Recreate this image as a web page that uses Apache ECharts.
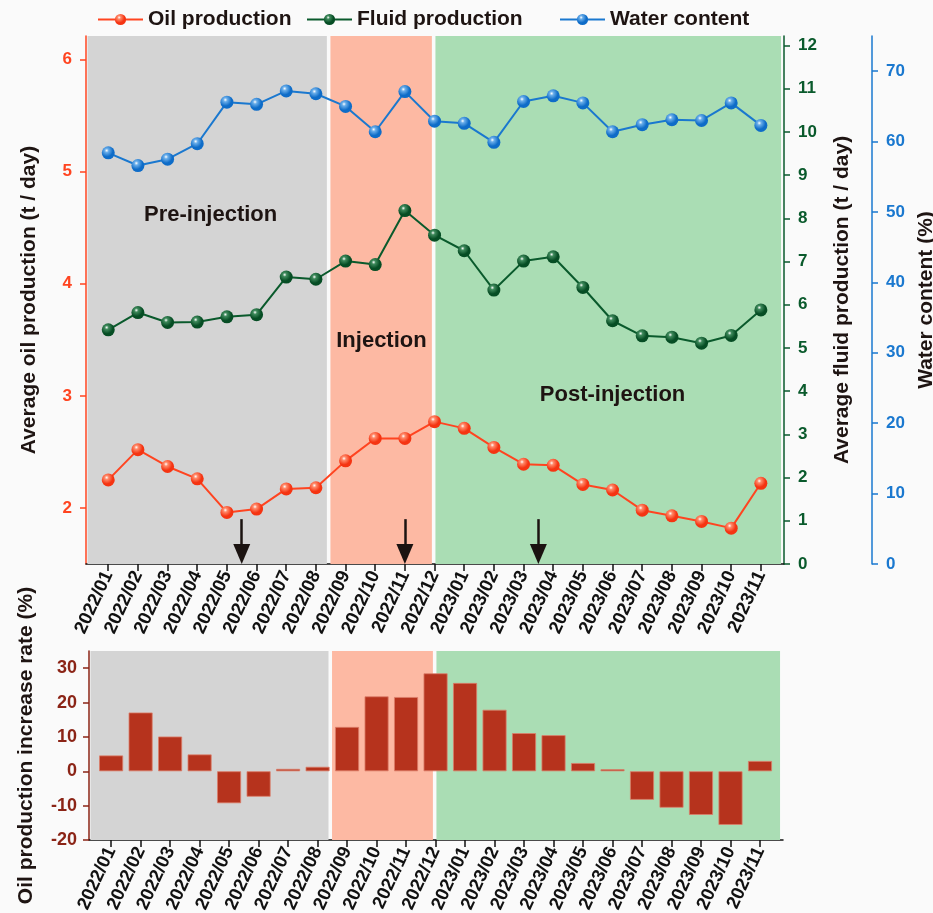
<!DOCTYPE html>
<html>
<head>
<meta charset="utf-8">
<script src="https://cdn.jsdelivr.net/npm/echarts@6/dist/echarts.min.js"></script>
<style>
  html, body { margin: 0; padding: 0; background: #fafafa; }
  #chart { width: 933px; height: 913px; }
</style>
</head>
<body>
<div id="chart"></div>
<script>
// Monthly categories
const months = ['2022/01','2022/02','2022/03','2022/04','2022/05','2022/06','2022/07','2022/08',
  '2022/09','2022/10','2022/11','2022/12','2023/01','2023/02','2023/03','2023/04','2023/05',
  '2023/06','2023/07','2023/08','2023/09','2023/10','2023/11'];

// Average oil production (t / day)
const oilProduction = [2.25,2.52,2.37,2.26,1.96,1.99,2.17,2.18,2.42,2.62,2.62,2.77,
  2.71,2.54,2.39,2.38,2.21,2.16,1.98,1.93,1.88,1.82,2.22];

// Average fluid production (t / day)
const fluidProduction = [5.42,5.82,5.59,5.60,5.72,5.77,6.64,6.59,7.01,6.93,8.18,7.61,
  7.25,6.34,7.01,7.11,6.40,5.63,5.28,5.25,5.11,5.29,5.88];

// Water content (%)
const waterContent = [58.4,56.6,57.5,59.7,65.6,65.3,67.2,66.8,65.0,61.4,67.1,62.9,
  62.6,59.9,65.7,66.5,65.5,61.4,62.4,63.1,63.0,65.5,62.3];

// Oil production increase rate (%)
const increaseRate = [4.6,17.1,10.1,4.9,-9.3,-7.4,0.7,1.3,12.9,21.8,21.6,28.5,
  25.7,17.9,11.1,10.5,2.4,0.6,-8.3,-10.6,-12.7,-15.6,3.0];

// Project phases (month-index extents) and their label anchors
const phaseNames = ['Pre-injection', 'Injection', 'Post-injection'];
const phaseStart = [0.3, 8.49, 12.03];
const phaseEnd = [8.37, 11.91, 23.68];
const phaseLabelX = [4.45, 10.21, 18.0];
const phaseLabelY = [4.61, 3.49, 3.01];

// Treatment events marked with arrows (month index) and the arrow's vertical span
const arrowMonths = [5.5, 11, 15.5];
const arrowTop = 1.9;
const arrowHeadAt = 1.59;

// Tick values
const oilTicks = [2, 3, 4, 5, 6];
const fluidTicks = [0,1,2,3,4,5,6,7,8,9,10,11,12];
const waterTicks = [0,10,20,30,40,50,60,70];
const rateTicks = [-20,-10,0,10,20,30];
const monthTicks = months.map((m, i) => i + 1);

const FONT = "'Liberation Sans', Arial, sans-serif";
const ORANGE = '#FF4420';
const GREEN = '#0A5A2C';
const BLUE = '#1A78CF';
const DARKRED = '#8B2416';
const TEXT = '#1E1412';
const ARROW = '#1B1311';
const phaseColors = ['#D4D4D4', '#FDB9A3', '#AADDB4'];

function ball(base, light) {
  return {
    type: 'radial', x: 0.38, y: 0.32, r: 0.68,
    colorStops: [
      { offset: 0, color: '#ffffff' },
      { offset: 0.22, color: light },
      { offset: 0.7, color: base },
      { offset: 1, color: base }
    ]
  };
}

const pairs = arr => arr.map((v, i) => [i + 1, v]);
const monthLabel = v => months[Math.round(v) - 1] || '';

const xCommon = {
  type: 'value', min: 0.25, max: 23.78,
  axisLine: { show: true, onZero: false, lineStyle: { color: '#111', width: 1.5 } },
  axisTick: { show: true, customValues: monthTicks, length: 7, lineStyle: { color: '#111', width: 1.5 } },
  axisLabel: {
    customValues: monthTicks, formatter: monthLabel, rotate: 65, margin: 8,
    color: '#111', fontFamily: FONT, fontWeight: 'bold', fontSize: 18.5
  },
  splitLine: { show: false }
};

const phaseAreas = phaseNames.map((n, i) => [
  { xAxis: phaseStart[i], itemStyle: { color: phaseColors[i] } },
  { xAxis: phaseEnd[i] }
]);

const option = {
  backgroundColor: '#fafafa',
  animation: false,
  legend: [
    { data: ['Oil production'], left: 97, top: 9 },
    { data: ['Fluid production'], left: 306, top: 9 },
    { data: ['Water content'], left: 559, top: 9 }
  ].map(l => Object.assign(l, {
    padding: 0, itemWidth: 45, itemHeight: 14,
    textStyle: { fontFamily: FONT, fontWeight: 'bold', fontSize: 21, color: TEXT }
  })),
  grid: [
    { left: 86, right: 149, top: 36, height: 528, outerBoundsMode: 'none' },
    { left: 89, right: 150, top: 651, height: 189, outerBoundsMode: 'none' }
  ],
  xAxis: [
    Object.assign({ gridIndex: 0 }, xCommon),
    Object.assign({ gridIndex: 1 }, xCommon)
  ],
  yAxis: [
    {
      gridIndex: 0, type: 'value', min: 1.5, max: 6.21, position: 'left',
      name: 'Average oil production (t / day)', nameLocation: 'middle', nameGap: 46,
      nameTextStyle: { fontFamily: FONT, fontWeight: 'bold', fontSize: 21, color: TEXT },
      axisLine: { show: true, lineStyle: { color: ORANGE, width: 1.5 } },
      axisTick: { show: true, customValues: oilTicks, length: 6, lineStyle: { color: ORANGE, width: 1.5 } },
      axisLabel: { customValues: oilTicks, margin: 14, color: ORANGE, fontFamily: FONT, fontWeight: 'bold', fontSize: 17 },
      splitLine: { show: false }
    },
    {
      gridIndex: 0, type: 'value', min: 0, max: 12.22, position: 'right',
      name: 'Average fluid production (t / day)', nameLocation: 'middle', nameGap: 48,
      nameTextStyle: { fontFamily: FONT, fontWeight: 'bold', fontSize: 21, color: TEXT },
      axisLine: { show: true, lineStyle: { color: GREEN, width: 1.5 } },
      axisTick: { show: true, customValues: fluidTicks, length: 6, lineStyle: { color: GREEN, width: 1.5 } },
      axisLabel: { customValues: fluidTicks, margin: 14, color: GREEN, fontFamily: FONT, fontWeight: 'bold', fontSize: 17 },
      splitLine: { show: false }
    },
    {
      gridIndex: 0, type: 'value', min: 0, max: 75, position: 'right', offset: 88,
      name: 'Water content (%)', nameLocation: 'middle', nameGap: 42,
      nameTextStyle: { fontFamily: FONT, fontWeight: 'bold', fontSize: 21, color: TEXT },
      axisLine: { show: true, lineStyle: { color: BLUE, width: 1.5 } },
      axisTick: { show: true, customValues: waterTicks, length: 6, lineStyle: { color: BLUE, width: 1.5 } },
      axisLabel: { customValues: waterTicks, margin: 14, color: BLUE, fontFamily: FONT, fontWeight: 'bold', fontSize: 17 },
      splitLine: { show: false }
    },
    {
      gridIndex: 1, type: 'value', min: -20, max: 35, position: 'left',
      name: 'Oil production increase rate (%)', nameLocation: 'middle', nameGap: 52,
      nameTextStyle: { fontFamily: FONT, fontWeight: 'bold', fontSize: 21, color: TEXT },
      axisLine: { show: true, lineStyle: { color: DARKRED, width: 1.5 } },
      axisTick: { show: true, customValues: rateTicks, length: 6, lineStyle: { color: DARKRED, width: 1.5 } },
      axisLabel: { customValues: rateTicks, margin: 12, color: DARKRED, fontFamily: FONT, fontWeight: 'bold', fontSize: 18 },
      splitLine: { show: false }
    }
  ],
  series: [
    {
      name: 'Oil production', type: 'line', xAxisIndex: 0, yAxisIndex: 0,
      data: pairs(oilProduction), symbol: 'circle', symbolSize: 13,
      lineStyle: { color: ORANGE, width: 2 },
      itemStyle: { color: ball('#F53412', '#FF8A6A') },
      markArea: { silent: true, data: phaseAreas },
      markLine: {
        silent: true, symbol: ['none', 'none'],
        label: { show: false },
        lineStyle: { color: ARROW, width: 2.5, type: 'solid' },
        data: arrowMonths.map(m => [{ coord: [m, arrowTop] }, { coord: [m, arrowHeadAt] }])
      }
    },
    {
      name: 'Fluid production', type: 'line', xAxisIndex: 0, yAxisIndex: 1,
      data: pairs(fluidProduction), symbol: 'circle', symbolSize: 13,
      lineStyle: { color: GREEN, width: 2 },
      itemStyle: { color: ball('#064D24', '#3F8A5C') }
    },
    {
      name: 'Water content', type: 'line', xAxisIndex: 0, yAxisIndex: 2,
      data: pairs(waterContent), symbol: 'circle', symbolSize: 13,
      lineStyle: { color: BLUE, width: 2 },
      itemStyle: { color: ball('#0E6CC8', '#6AAEEA') }
    },
    {
      // arrowheads pointing down onto the time axis
      name: 'arrowheads', type: 'scatter', xAxisIndex: 0, yAxisIndex: 0, silent: true,
      symbol: 'triangle', symbolRotate: 180, symbolSize: [17, 20], clip: false,
      itemStyle: { color: ARROW, opacity: 1 },
      data: arrowMonths.map(m => [m, arrowHeadAt]),
      z: 6
    },
    {
      name: 'phases', type: 'scatter', xAxisIndex: 0, yAxisIndex: 0, silent: true,
      symbolSize: 1, itemStyle: { color: 'rgba(0,0,0,0)', opacity: 1 },
      data: phaseNames.map((n, i) => ({ value: [phaseLabelX[i], phaseLabelY[i]], name: n })),
      label: {
        show: true, position: 'inside', formatter: p => p.name,
        fontFamily: FONT, fontWeight: 'bold', fontSize: 22, color: TEXT,
        textBorderWidth: 0
      }
    },
    {
      name: 'Increase rate', type: 'bar', xAxisIndex: 1, yAxisIndex: 3,
      data: pairs(increaseRate), barWidth: 24,
      itemStyle: { color: '#B6331D', borderColor: '#DC7E6A', borderWidth: 0.8 },
      markArea: { silent: true, data: phaseAreas }
    }
  ]
};

const chart = echarts.init(document.getElementById('chart'), null, { renderer: 'canvas' });
chart.setOption(option);
</script>
</body>
</html>
